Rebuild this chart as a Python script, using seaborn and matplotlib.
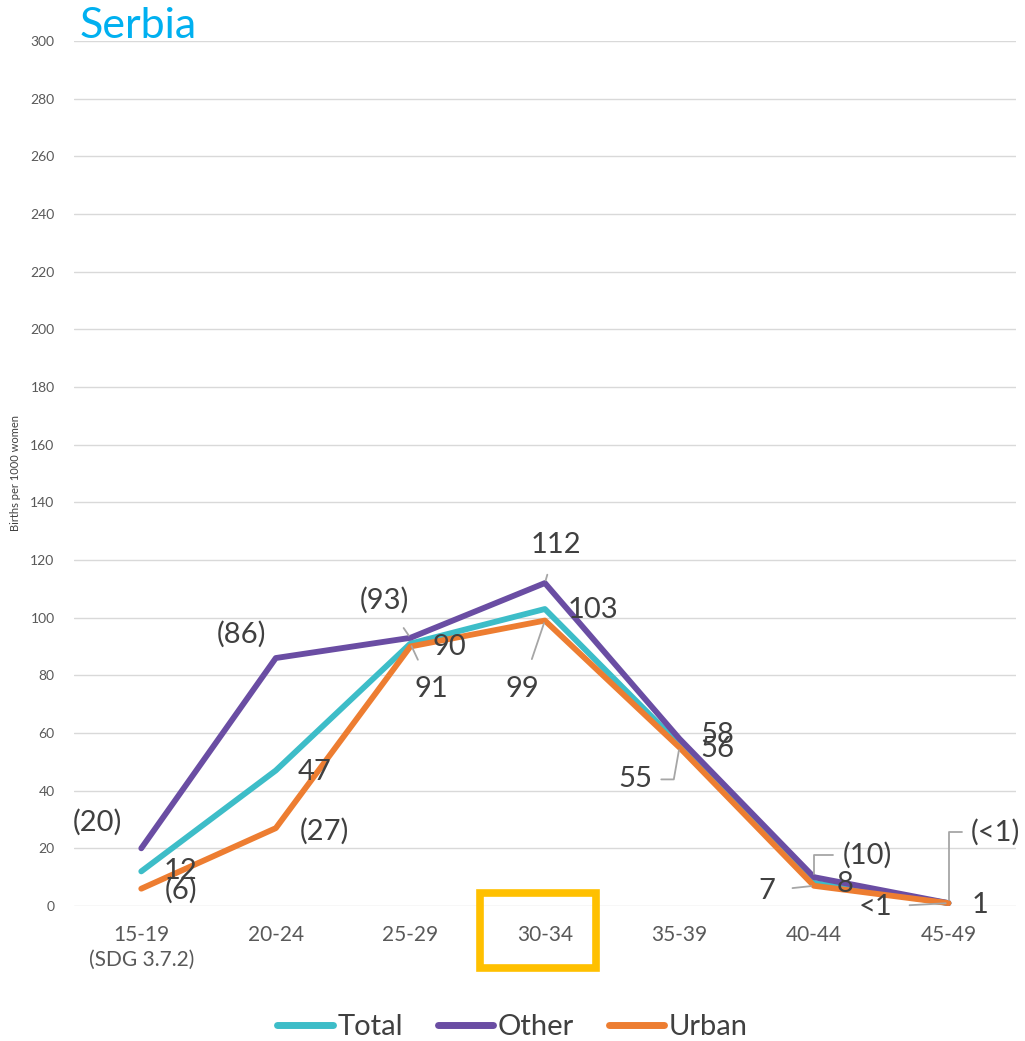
import matplotlib
matplotlib.use("Agg")
import matplotlib.pyplot as plt
from matplotlib.patches import Rectangle
import pandas as pd
import seaborn as sns

AGE_GROUPS = ["15-19", "20-24", "25-29", "30-34", "35-39", "40-44", "45-49"]
TICK_LABELS = ["15-19\n(SDG 3.7.2)", "20-24", "25-29", "30-34", "35-39", "40-44", "45-49"]
SERIES = ["Total", "Other", "Urban"]

total_vals = [12, 47, 91, 103, 56, 8, 1]
other_vals = [20, 86, 93, 112, 58, 10, 1]
urban_vals = [6, 27, 90, 99, 55, 7, 1]

total_labels = ["12", "47", "91", "103", "56", "8", "1"]
other_labels = ["(20)", "(86)", "(93)", "112", "58", "(10)", "(<1)"]
urban_labels = ["(6)", "(27)", "90", "99", "55", "7", "<1"]

COLORS = {"Total": "#3DBDC8", "Other": "#6A4DA3", "Urban": "#ED7D31"}

# label offsets in pixels from the point (y up)
OFFSETS = {
    "Total": [(39, 0), (39, -2), (21, -45), (48, -1), (38, -4), (31, -1), (32, -2)],
    "Other": [(-44, 26), (-34, 24), (-26, 38), (11, 38), (38, 4), (53, 22), (47, 71)],
    "Urban": [(40, -2), (49, -3), (39, -1), (-23, -68), (-44, -32), (-47, -5), (-73, -4)],
}
# leader line style: None, "straight", "elbow_left" (leaves text's left side), "elbow_right"
LEADERS = {
    "Total": [None, None, "straight", None, None, None, None],
    "Other": [None, None, "straight", "straight", None, "elbow_left", "elbow_left"],
    "Urban": [None, None, None, "straight", "elbow_right", "straight", "straight"],
}


def leader_props(kind):
    base = dict(arrowstyle="-", color="#A6A6A6", lw=1.3, shrinkB=2)
    if kind == "straight":
        base.update(shrinkA=10)
    elif kind == "elbow_left":
        base.update(shrinkA=4, relpos=(0, 0.5),
                    connectionstyle="angle,angleA=0,angleB=90,rad=0")
    elif kind == "elbow_right":
        base.update(shrinkA=4, relpos=(1, 0.5),
                    connectionstyle="angle,angleA=0,angleB=80,rad=0")
    return base


def main():
    sns.set_theme(style="white")
    plt.rcParams["font.family"] = ["Lato", "DejaVu Sans"]

    values = {"Total": total_vals, "Other": other_vals, "Urban": urban_vals}
    labels = {"Total": total_labels, "Other": other_labels, "Urban": urban_labels}

    rows = []
    for s in SERIES:
        for i, age in enumerate(AGE_GROUPS):
            rows.append({"pos": i, "age": age, "series": s, "rate": values[s][i]})
    df = pd.DataFrame(rows)

    fig = plt.figure(figsize=(10.25, 10.41), dpi=100)
    ax = fig.add_axes([0.0722, 0.1297, 0.9188, 0.8309])

    sns.lineplot(data=df, x="pos", y="rate", hue="series", hue_order=SERIES,
                 palette=COLORS, linewidth=4.2, ax=ax, legend=False, sort=False)

    ax.set_xlim(-0.5, 6.5)
    ax.set_ylim(0, 300)
    ax.set_yticks(range(0, 301, 20))
    ax.set_xticks(range(len(AGE_GROUPS)))
    ax.set_xticklabels(TICK_LABELS, fontsize=15, color="#595959", linespacing=1.25)
    ax.tick_params(axis="y", labelsize=10, labelcolor="#595959", length=0, pad=14)
    ax.tick_params(axis="x", length=0, pad=14)
    ax.grid(axis="y", color="#D9D9D9", linewidth=1)
    ax.set_axisbelow(True)
    for sp in ax.spines.values():
        sp.set_visible(False)
    ax.set_xlabel("")
    ax.set_ylabel("")

    for s in SERIES:
        for i in range(len(AGE_GROUPS)):
            dx, dy = OFFSETS[s][i]
            kind = LEADERS[s][i]
            props = leader_props(kind) if kind else None
            ax.annotate(labels[s][i], xy=(i, values[s][i]), xytext=(dx, dy),
                        textcoords="offset pixels", ha="center", va="center",
                        fontsize=21, color="#404040", arrowprops=props,
                        annotation_clip=False)

    # highlight box around the 30-34 tick label
    box = Rectangle((2.52, -0.0717), 0.86, 0.0867,
                    transform=ax.get_xaxis_transform(), fill=False,
                    edgecolor="#FFC000", linewidth=5.5, clip_on=False)
    ax.add_patch(box)

    fig.text(80 / 1025, 1 - 38 / 1041, "Serbia", fontsize=31, color="#00B0F0",
             ha="left", va="baseline")
    fig.text(16 / 1025, 1 - 473 / 1041, "Births per 1000 women", fontsize=8,
             color="#404040", rotation=90, ha="center", va="center")

    handles = [plt.Line2D([], [], color=COLORS[s], linewidth=5) for s in SERIES]
    fig.legend(handles, SERIES, loc="center", bbox_to_anchor=(0.5, 1 - 1027 / 1041),
               ncol=3, frameon=False, fontsize=21, handlelength=1.9,
               columnspacing=1.2, handletextpad=0.15, labelcolor="#404040")

    fig.savefig("out.png", dpi=100)


if __name__ == "__main__":
    main()
